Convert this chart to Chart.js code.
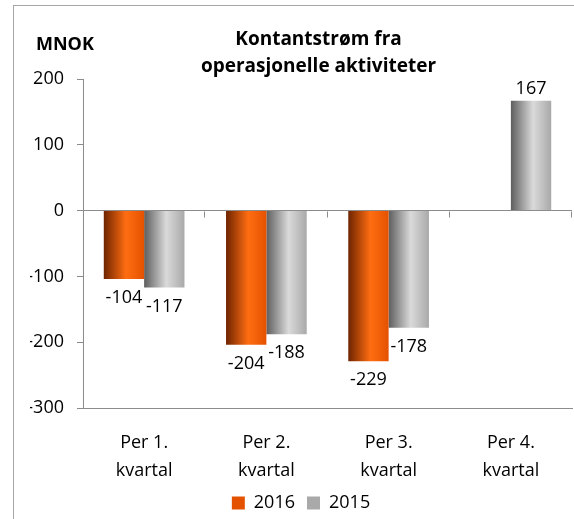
<!DOCTYPE html>
<html>
<head>
<meta charset="utf-8">
<script src="https://cdn.jsdelivr.net/npm/chart.js@4"></script>
<style>
  html, body { margin: 0; padding: 0; background: #fff; }
  #wrap { width: 574px; height: 519px; }
</style>
</head>
<body>
<div id="wrap"><canvas id="cashChart"></canvas></div>
<script>
// Kontantstrøm fra operasjonelle aktiviteter, MNOK per kvartal
const quarterLabels = [['Per 1.', 'kvartal'], ['Per 2.', 'kvartal'], ['Per 3.', 'kvartal'], ['Per 4.', 'kvartal']];
const values2016 = [-104, -204, -229, null];
const values2015 = [-117, -188, -178, 167];
const titleLines = ['Kontantstrøm fra', 'operasjonelle aktiviteter'];
const unitLabel = 'MNOK';

const FONT = 'Open Sans';
const CAT_PCT = 0.66;
const AXIS_GREY = '#8c8c8c';

// horizontal shading across each bar, like the Excel bevel look
const orangeStops = [[0, '#6e2400'], [0.55, '#ff6d12'], [1, '#e45200']];
const greyStops = [[0, '#5e5e5e'], [0.55, '#dadada'], [1, '#a9a9a9']];

function barShade(stops, solid) {
    return (c) => {
        if (c.type !== 'data') return solid;
        const chart = c.chart;
        if (!chart.chartArea) return solid;
        const xs = chart.scales.x;
        const center = xs.getPixelForValue(c.dataIndex);
        const barW = (xs.width / quarterLabels.length) * CAT_PCT / 2;
        const left = c.datasetIndex === 0 ? center - barW : center;
        const g = chart.ctx.createLinearGradient(left, 0, left + barW, 0);
        stops.forEach(s => g.addColorStop(s[0], s[1]));
        return g;
    };
}

// frame, title and unit text
const decorPlugin = {
    id: 'decor',
    beforeDraw(chart) {
        const ctx = chart.ctx;
        ctx.save();
        ctx.strokeStyle = '#a6a6a6';
        ctx.lineWidth = 1;
        ctx.strokeRect(13.5, 5.5, 800, 800);
        ctx.restore();
    },
    afterDraw(chart) {
        const ctx = chart.ctx;
        const area = chart.chartArea;
        ctx.save();
        ctx.fillStyle = '#000';
        ctx.font = 'bold 19px "' + FONT + '"';
        ctx.textAlign = 'center';
        ctx.textBaseline = 'middle';
        const cx = (area.left + area.right) / 2 - 9;
        ctx.fillText(titleLines[0], cx, 40);
        ctx.fillText(titleLines[1], cx, 67);
        ctx.font = 'bold 18px "' + FONT + '"';
        ctx.textAlign = 'left';
        ctx.fillText(unitLabel, 36, 45);

        // small tick marks hanging under the zero line between categories
        const xs = chart.scales.x;
        const y0 = Math.round(chart.scales.y.getPixelForValue(0)) + 0.5;
        const step = xs.width / quarterLabels.length;
        ctx.strokeStyle = AXIS_GREY;
        ctx.lineWidth = 1;
        ctx.beginPath();
        for (let i = 1; i <= quarterLabels.length; i++) {
            const x = Math.round(xs.left + i * step) - 0.5;
            ctx.moveTo(x, y0);
            ctx.lineTo(x, y0 + 6);
        }
        ctx.stroke();
        ctx.restore();
    }
};

// value labels at the bar ends
const valuePlugin = {
    id: 'values',
    afterDatasetsDraw(chart) {
        const ctx = chart.ctx;
        ctx.save();
        ctx.font = '18px "' + FONT + '"';
        ctx.fillStyle = '#000';
        ctx.textAlign = 'center';
        chart.data.datasets.forEach((ds, di) => {
            chart.getDatasetMeta(di).data.forEach((bar, i) => {
                const v = ds.data[i];
                if (v === null || v === undefined) return;
                if (v >= 0) {
                    ctx.textBaseline = 'bottom';
                    ctx.fillText(String(v), bar.x, bar.y - 3);
                } else {
                    ctx.textBaseline = 'top';
                    ctx.fillText(String(v), bar.x, bar.y + 10);
                }
            });
        });
        ctx.restore();
    }
};

new Chart(document.getElementById('cashChart'), {
    type: 'bar',
    data: {
        labels: quarterLabels,
        datasets: [
            {
                label: '2016',
                data: values2016,
                backgroundColor: barShade(orangeStops, '#e2580c'),
                borderWidth: 0,
                categoryPercentage: CAT_PCT,
                barPercentage: 1
            },
            {
                label: '2015',
                data: values2015,
                backgroundColor: barShade(greyStops, '#bfbfbf'),
                borderWidth: 0,
                categoryPercentage: CAT_PCT,
                barPercentage: 1
            }
        ]
    },
    options: {
        responsive: true,
        maintainAspectRatio: false,
        animation: false,
        layout: { padding: { top: 79, right: 2, left: 30, bottom: -3 } },
        plugins: {
            title: { display: false },
            tooltip: { enabled: false },
            legend: {
                position: 'bottom',
                labels: {
                    boxWidth: 13,
                    boxHeight: 13,
                    padding: 12,
                    color: '#000',
                    font: { family: FONT, size: 18 }
                }
            }
        },
        scales: {
            x: {
                offset: true,
                grid: { display: false, offset: true },
                border: { display: true, color: AXIS_GREY },
                ticks: {
                    color: '#000',
                    padding: 13,
                    maxRotation: 0,
                    font: { family: FONT, size: 18, lineHeight: 1.55 }
                },
                afterFit(scale) { scale.height = 74; }
            },
            y: {
                min: -300,
                max: 200,
                ticks: {
                    stepSize: 100,
                    color: '#000',
                    padding: 13,
                    font: { family: FONT, size: 18 }
                },
                grid: {
                    drawTicks: true,
                    tickLength: 6,
                    tickColor: AXIS_GREY,
                    color: (c) => (c.tick && c.tick.value === 0) ? AXIS_GREY : 'rgba(0,0,0,0)'
                },
                border: { display: true, color: AXIS_GREY },
                afterFit(scale) { scale.width = 53; }
            }
        }
    },
    plugins: [decorPlugin, valuePlugin]
});
</script>
</body>
</html>
